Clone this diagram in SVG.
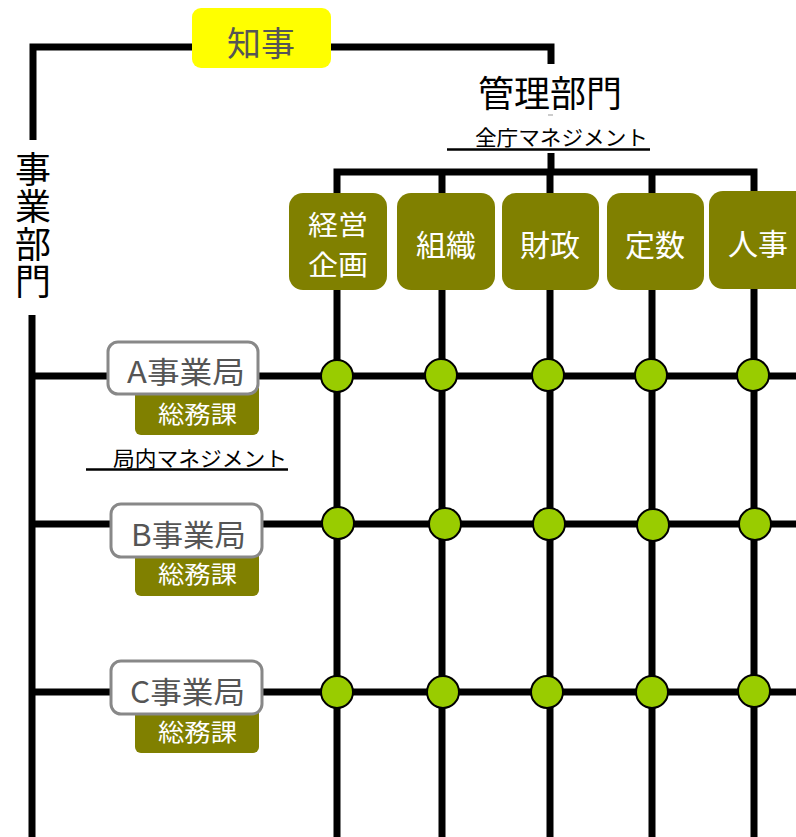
<svg xmlns="http://www.w3.org/2000/svg" width="796" height="837" viewBox="0 0 796 837">
<style>
.ln{fill:none;stroke:#000;stroke-width:7;stroke-linejoin:miter;stroke-linecap:butt}
.ul{stroke:#000;stroke-width:2.5}
.t{font-family:"Noto Sans CJK JP","Noto Sans",sans-serif}
.mg{fill:#808000}
.mt{fill:#fff;font-size:30px;text-anchor:middle}
.bu{fill:#fff;stroke:#888;stroke-width:3}
.bt{fill:#555;font-size:30px}
.st{fill:#fff;font-size:24px}
.dot{fill:#99cc00;stroke:#000;stroke-width:2}
</style>
<rect width="796" height="837" fill="#fff"/>
<g id="connectors">
<path class="ln" d="M33,140 V47 H551 V64"/>
<path class="ln" d="M32,315 V837"/>
<path class="ln" d="M551,153 V172"/>
<path class="ln" d="M337,837 V172 H754 V837"/>
<path class="ln" d="M442,172 V837"/>
<path class="ln" d="M550,172 V837"/>
<path class="ln" d="M652,172 V837"/>
<path class="ln" d="M32,376 H796"/>
<path class="ln" d="M32,524 H796"/>
<path class="ln" d="M32,692 H796"/>
</g>
<g id="chiji">
<rect x="192" y="8" width="139" height="60" rx="9" fill="#ffff00"/>
<text class="t" x="261" y="56" font-size="34" fill="#555" text-anchor="middle">知事</text>
</g>
<g id="jigyo-bumon">
<text class="t" x="33" y="151" font-size="36" fill="#000" style="writing-mode:vertical-rl" letter-spacing="1.5">事業部門</text>
</g>
<g id="kanri-bumon">
<text class="t" x="550" y="107" font-size="36" fill="#000" text-anchor="middle">管理部門</text>
<line x1="548" y1="115" x2="553" y2="115" stroke="#999" stroke-width="1"/>
<text class="t" x="475" y="145" font-size="21" fill="#000" textLength="173" lengthAdjust="spacingAndGlyphs">全庁マネジメント</text>
<line class="ul" x1="447" y1="149.5" x2="650" y2="149.5"/>
</g>
<g id="keiei">
<rect class="mg" x="289" y="193" width="98" height="97" rx="14"/>
<text class="t" x="308" y="235" font-size="27" fill="#fff" textLength="60" lengthAdjust="spacingAndGlyphs">経営</text>
<text class="t" x="308" y="275" font-size="27" fill="#fff" textLength="60" lengthAdjust="spacingAndGlyphs">企画</text>
</g>
<g id="soshiki">
<rect class="mg" x="397" y="193" width="98" height="97" rx="14"/>
<text class="t mt" x="446" y="256">組織</text>
</g>
<g id="zaisei">
<rect class="mg" x="502" y="193" width="97" height="97" rx="14"/>
<text class="t mt" x="550" y="256">財政</text>
</g>
<g id="teisu">
<rect class="mg" x="607" y="193" width="97" height="97" rx="14"/>
<text class="t mt" x="655" y="256">定数</text>
</g>
<g id="jinji">
<rect class="mg" x="709" y="191" width="100" height="98" rx="14"/>
<text class="t mt" x="758" y="255">人事</text>
</g>
<g id="a-kyoku">
<path class="mg" d="M135,388 H259 V429 a6,6 0 0 1 -6,6 H141 a6,6 0 0 1 -6,-6 Z"/>
<text class="t st" x="158" y="423" textLength="79" lengthAdjust="spacingAndGlyphs">総務課</text>
<rect class="bu" x="108" y="342" width="150" height="52" rx="10"/>
<text class="t bt" x="127" y="383" textLength="118" lengthAdjust="spacingAndGlyphs">A事業局</text>
</g>
<g id="kyokunai">
<text class="t" x="113" y="466" font-size="21" fill="#000" textLength="174" lengthAdjust="spacingAndGlyphs">局内マネジメント</text>
<line class="ul" x1="86" y1="469.5" x2="288" y2="469.5"/>
</g>
<g id="b-kyoku">
<path class="mg" d="M135,552 H259 V590 a6,6 0 0 1 -6,6 H141 a6,6 0 0 1 -6,-6 Z"/>
<text class="t st" x="158" y="583" textLength="79" lengthAdjust="spacingAndGlyphs">総務課</text>
<rect class="bu" x="111" y="504" width="151" height="53" rx="10"/>
<text class="t bt" x="131" y="546" textLength="115" lengthAdjust="spacingAndGlyphs">B事業局</text>
</g>
<g id="c-kyoku">
<path class="mg" d="M135,708 H259 V747 a6,6 0 0 1 -6,6 H141 a6,6 0 0 1 -6,-6 Z"/>
<text class="t st" x="158" y="741" textLength="79" lengthAdjust="spacingAndGlyphs">総務課</text>
<rect class="bu" x="111" y="661" width="151" height="53" rx="10"/>
<text class="t bt" x="130" y="703" textLength="115" lengthAdjust="spacingAndGlyphs">C事業局</text>
</g>
<g id="junctions">
<circle class="dot" cx="337" cy="376" r="16"/>
<circle class="dot" cx="441" cy="375" r="16"/>
<circle class="dot" cx="548" cy="375" r="16"/>
<circle class="dot" cx="651" cy="375" r="16"/>
<circle class="dot" cx="753" cy="375" r="16"/>
<circle class="dot" cx="338" cy="523" r="16"/>
<circle class="dot" cx="445" cy="524" r="16"/>
<circle class="dot" cx="549" cy="524" r="16"/>
<circle class="dot" cx="653" cy="525" r="16"/>
<circle class="dot" cx="755" cy="524" r="16"/>
<circle class="dot" cx="337" cy="692" r="16"/>
<circle class="dot" cx="443" cy="692" r="16"/>
<circle class="dot" cx="547" cy="692" r="16"/>
<circle class="dot" cx="652" cy="692" r="16"/>
<circle class="dot" cx="754" cy="691" r="16"/>
</g>
</svg>
